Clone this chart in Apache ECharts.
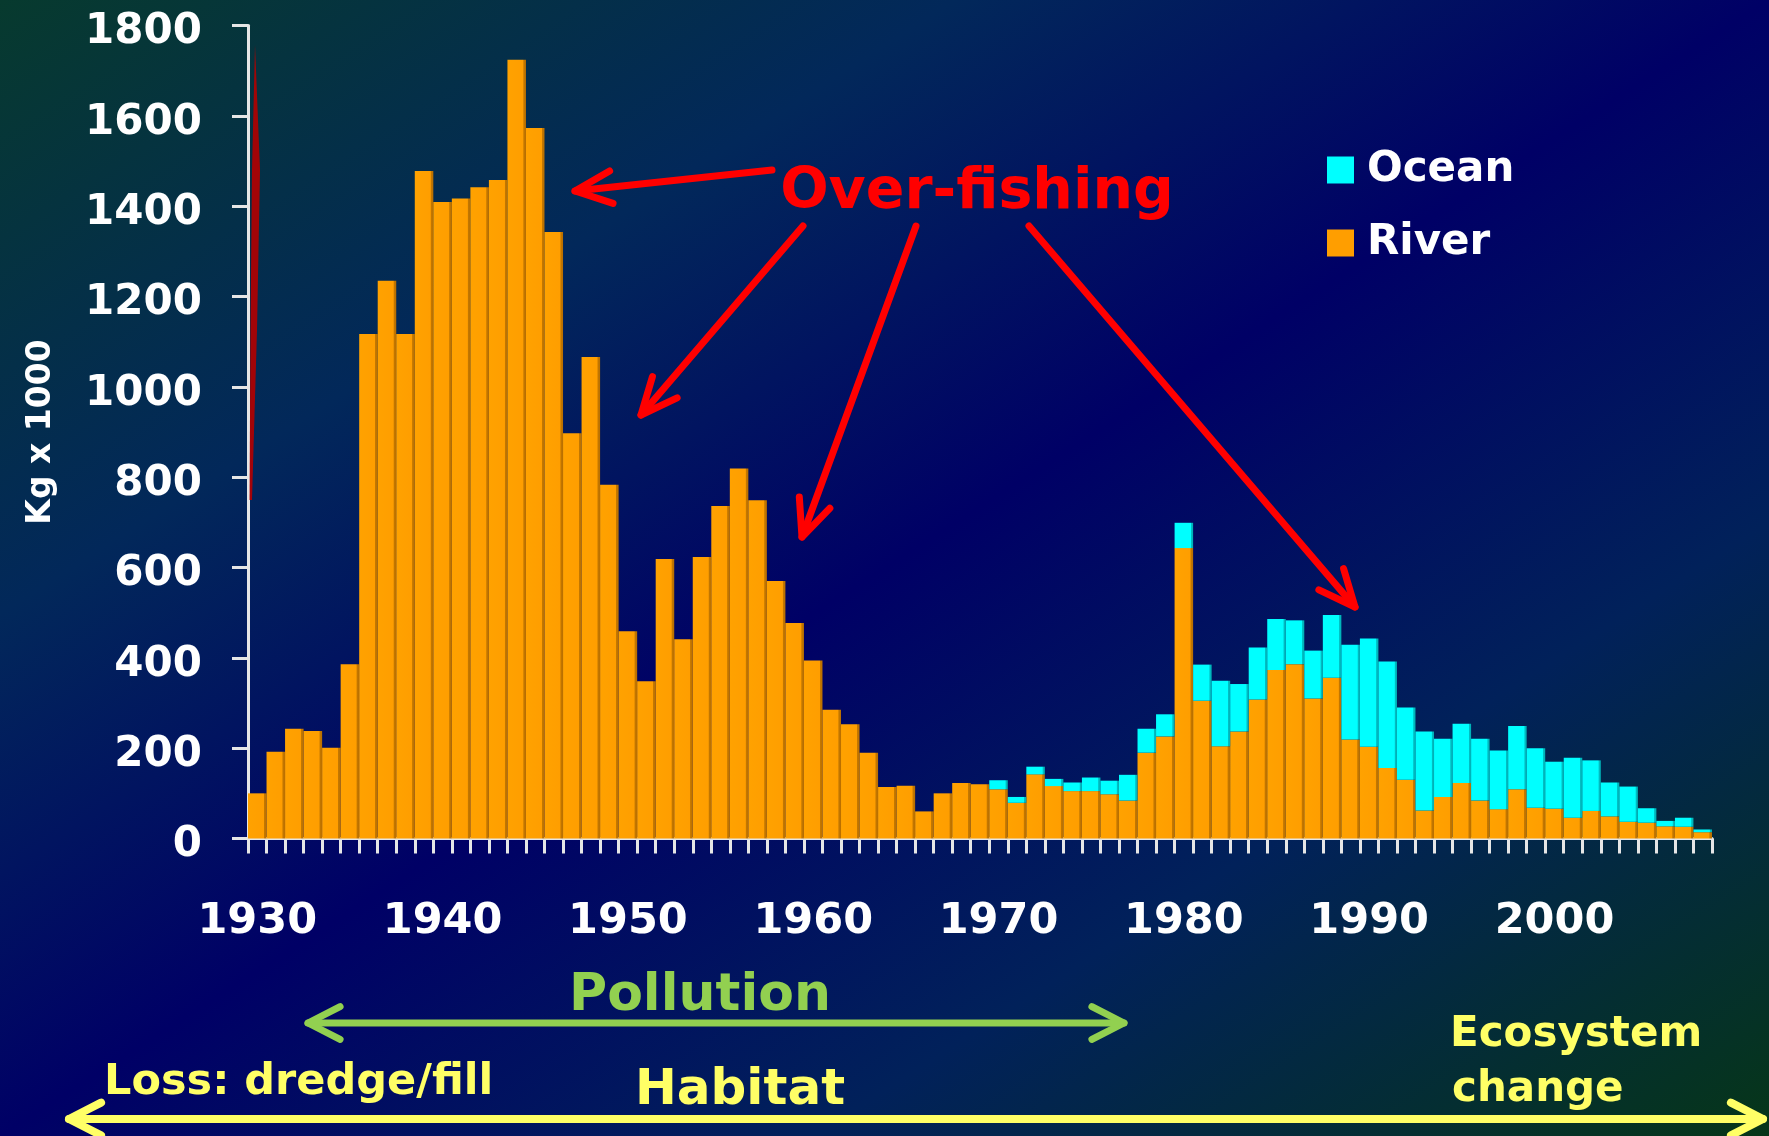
<!DOCTYPE html>
<html><head><meta charset="utf-8">
<script src="https://cdn.jsdelivr.net/npm/echarts@6/dist/echarts.min.js"></script>
<style>
html,body{margin:0;padding:0;overflow:hidden;}
#c{width:1769px;height:1136px;background:linear-gradient(to bottom right,#073a2e 0%,#02285a 27%,#000066 50%,#01215a 73%,#063618 100%);}
</style></head><body><div id="c"></div>
<script>
const years = ['1930','1931','1932','1933','1934','1935','1936','1937','1938','1939',
  '1940','1941','1942','1943','1944','1945','1946','1947','1948','1949',
  '1950','1951','1952','1953','1954','1955','1956','1957','1958','1959',
  '1960','1961','1962','1963','1964','1965','1966','1967','1968','1969',
  '1970','1971','1972','1973','1974','1975','1976','1977','1978','1979',
  '1980','1981','1982','1983','1984','1985','1986','1987','1988','1989',
  '1990','1991','1992','1993','1994','1995','1996','1997','1998','1999',
  '2000','2001','2002','2003','2004','2005','2006','2007','2008'];
const river = [100,192,243,238,201,386,1117,1235,1117,1478,
  1409,1417,1442,1458,1724,1573,1343,897,1066,783,
  459,348,619,441,623,736,819,749,570,477,
  394,285,253,190,114,117,60,100,123,120,
  109,79,142,116,105,105,98,84,190,226,
  643,305,204,237,308,373,386,310,356,219,
  203,156,130,62,92,123,84,65,109,68,
  66,46,61,49,37,35,27,26,14];
const ocean = [0,0,0,0,0,0,0,0,0,0,
  0,0,0,0,0,0,0,0,0,0,
  0,0,0,0,0,0,0,0,0,0,
  0,0,0,0,0,0,0,0,0,0,
  20,13,17,16,19,30,30,57,53,49,
  56,80,145,105,115,113,97,106,139,210,
  240,236,160,175,129,131,137,130,140,132,
  104,133,112,75,78,32,12,20,6];
const yMin = 0, yMax = 1800, yStep = 200;
const labelYears = ['1930','1940','1950','1960','1970','1980','1990','2000'];

const FONT = 'DejaVu Sans';
const chart = echarts.init(document.getElementById('c'), null, {renderer:'canvas'});

function arrow(x1,y1,x2,y2,len,ang,color,w,both){
  const out = [];
  out.push({type:'polyline',shape:{points:[[x1,y1],[x2,y2]]},style:{stroke:color,lineWidth:w,fill:null,lineCap:'round'},z:20});
  function head(tx,ty,fx,fy){
    const a = Math.atan2(fy-ty,fx-tx), r = ang*Math.PI/180;
    return {type:'polyline',shape:{points:[[tx+len*Math.cos(a+r),ty+len*Math.sin(a+r)],[tx,ty],[tx+len*Math.cos(a-r),ty+len*Math.sin(a-r)]]},
      style:{stroke:color,lineWidth:w,fill:null,lineCap:'round',lineJoin:'round'},z:20};
  }
  out.push(head(x2,y2,x1,y1));
  if(both) out.push(head(x1,y1,x2,y2));
  return out;
}
function txt(t,x,y,size,color,align){
  return {type:'text',x:x,y:y,z:21,style:{text:t,fill:color,font:'bold '+size+'px "'+FONT+'"',textAlign:align||'left',textVerticalAlign:'middle'}};
}

const RED='#FF0000', GREEN='#92D050', YEL='#FFFF66';
let graphics = [];
graphics.push({type:'polygon',shape:{points:[[255,45],[260,170],[257,330],[252,500],[249.5,500],[250.5,330],[252,170]]},style:{fill:'rgba(180,0,0,0.9)'},z:19});
graphics = graphics.concat(arrow(772,170,575,191,40,24,RED,7));
graphics = graphics.concat(arrow(803,226,641,415,40,24,RED,7));
graphics = graphics.concat(arrow(916,226,802,537,40,24,RED,7));
graphics = graphics.concat(arrow(1029,226,1355,607,40,24,RED,7));
graphics = graphics.concat(arrow(308,1023,1124,1023,36,27,GREEN,7,true));
graphics = graphics.concat(arrow(69,1119,1763,1119,36,27,YEL,8,true));
graphics.push(txt('Over-fishing',977,193,57,RED,'center'));
graphics.push(txt('Pollution',700,996,52,GREEN,'center'));
graphics.push(txt('Loss: dredge/fill',104,1083,43,YEL,'left'));
graphics.push(txt('Habitat',740,1091,50,YEL,'center'));
graphics.push(txt('Ecosystem',1450,1035,42,YEL,'left'));
graphics.push(txt('change',1452,1090,42,YEL,'left'));

const orangeGrad = new echarts.graphic.LinearGradient(0,0,1,0,[
  {offset:0,color:'#FFA200'},{offset:0.84,color:'#FF9E00'},{offset:0.88,color:'#C47800'},{offset:1,color:'#B86E00'}]);
const cyanGrad = new echarts.graphic.LinearGradient(0,0,1,0,[
  {offset:0,color:'#00FFFF'},{offset:0.86,color:'#00FFFF'},{offset:0.9,color:'#00BFC4'},{offset:1,color:'#00AEB4'}]);

const axisCol = '#E6E6E6';
chart.setOption({
  animation:false,
  backgroundColor:'transparent',
  grid:{left:248,right:57,top:25.5,bottom:297.5,containLabel:false},
  legend:{
    orient:'vertical',left:1322,top:143,itemWidth:27,itemHeight:27,itemGap:29,icon:'rect',
    data:[{name:'Ocean',itemStyle:{color:'#00FFFF'}},{name:'River',itemStyle:{color:'#FF9E00'}}],
    textStyle:{color:'#FFFFFF',fontFamily:FONT,fontWeight:'bold',fontSize:42,lineHeight:44,padding:[0,0,0,8]}
  },
  xAxis:{
    type:'category',data:years,
    axisLine:{show:true,lineStyle:{color:axisCol,width:3}},
    axisTick:{show:true,interval:0,length:15,lineStyle:{color:axisCol,width:3}},
    axisLabel:{interval:(i,v)=>labelYears.indexOf(v)>=0,color:'#FFFFFF',fontFamily:FONT,fontWeight:'bold',fontSize:43,margin:62},
    splitLine:{show:false}
  },
  yAxis:{
    type:'value',min:yMin,max:yMax,interval:yStep,
    name:'Kg x 1000',nameLocation:'middle',nameGap:190,
    nameTextStyle:{color:'#FFFFFF',fontFamily:FONT,fontWeight:'bold',fontSize:33},
    axisLine:{show:true,lineStyle:{color:axisCol,width:3}},
    axisTick:{show:true,length:16,lineStyle:{color:axisCol,width:3}},
    axisLabel:{formatter:(v)=>String(v),color:'#FFFFFF',fontFamily:FONT,fontWeight:'bold',fontSize:42,margin:46,verticalAlign:'top',lineHeight:14},
    splitLine:{show:false}
  },
  series:[
    {name:'River',type:'bar',stack:'t',data:river,barCategoryGap:'0%',itemStyle:{color:orangeGrad}},
    {name:'Ocean',type:'bar',stack:'t',data:ocean,barCategoryGap:'0%',itemStyle:{color:cyanGrad}}
  ],
  graphic:graphics
});
</script></body></html>
